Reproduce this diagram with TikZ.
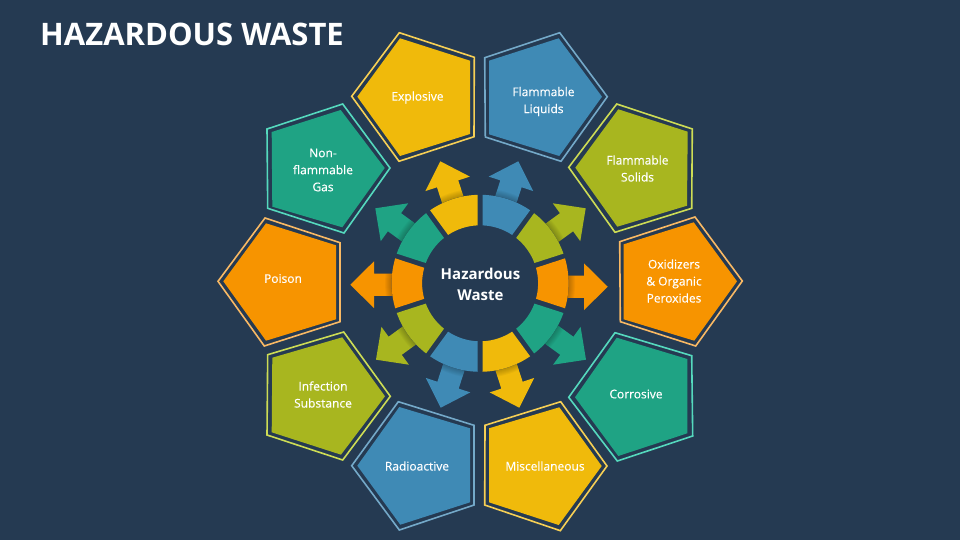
\documentclass[tikz,border=0pt]{standalone}
\usepackage{fontspec}
\setmainfont{Open Sans}
\newfontfamily\labelfont[FakeBold=0.35]{Open Sans}
\definecolor{bgc}{HTML}{253A52}
\definecolor{cy}{HTML}{F0BA0B}\definecolor{cyl}{HTML}{F6CF55}
\definecolor{cb}{HTML}{3F8AB5}\definecolor{cbl}{HTML}{74A9C9}
\definecolor{co}{HTML}{A8B61F}\definecolor{col}{HTML}{CDDC55}
\definecolor{cr}{HTML}{F79400}\definecolor{crl}{HTML}{F9B964}
\definecolor{ct}{HTML}{1FA384}\definecolor{ctl}{HTML}{55D9BE}
\usetikzlibrary{calc}
\tikzset{
  x=1pt,y=-1pt,
  frame/.style={draw=#1,line width=1.6pt,line join=miter,fill=none},
  face/.style={fill=#1,draw=none},
  lbl/.style={text=white,align=center,inner sep=0pt,font=\labelfont\fontsize{12}{17}\selectfont},
}
% #1 fill colour, #2 outline colour, #3 outer vertices, #4 inner vertices
\newcommand{\penta}[4]{\draw[frame=#2] #3 -- cycle; \fill[face=#1] #4 -- cycle;}
% #1 colour, #2 tip, #3 direction (y up)
\newcommand{\pointer}[3]{%
  \begin{scope}[shift={#2},rotate=#3]
    \fill[#1] (0,0) -- (-23.7,-23.4) -- (-23.7,-11.2) -- (-62,-11.2) -- (-62,11.2) -- (-23.7,11.2) -- (-23.7,23.4) -- cycle;
    \clip (0,0) -- (-23.7,-23.4) -- (-23.7,-11.2) -- (-62,-11.2) -- (-62,11.2) -- (-23.7,11.2) -- (-23.7,23.4) -- cycle;
    \foreach \r in {89,90,91,92,93,94,95}{\fill[black,opacity=0.035] (centre) circle[radius=\r];}
  \end{scope}}
% #1 colour, #2 first angle (y up)
\newcommand{\segment}[2]{%
  \pgfmathsetmacro{\aa}{#2}\pgfmathsetmacro{\ab}{#2-36}%
  \pgfmathsetmacro{\pa}{-(\aa-1.6)}\pgfmathsetmacro{\pb}{-(\ab+1.6)}%
  \pgfmathsetmacro{\qa}{-(\ab+2.5)}\pgfmathsetmacro{\qb}{-(\aa-2.5)}%
  \fill[#1] ($(centre)+(\pa:88.5)$) arc[start angle=\pa,end angle=\pb,radius=88.5]
    -- ($(centre)+(\qa:58)$) arc[start angle=\qa,end angle=\qb,radius=58] -- cycle;}
\begin{document}
\begin{tikzpicture}
\useasboundingbox (0,0) rectangle (960,540);
\fill[bgc] (0,0) rectangle (960,540);
\coordinate (centre) at (480.1,283.3);

\node[anchor=west,inner sep=0pt,text=white,font=\fontsize{31}{33}\selectfont\bfseries] (title) at (40,34.5) {HAZARDOUS WASTE};

% pentagons
\penta{cy}{cyl}{(399.3,32.7) -- (474.3,57.3) -- (474,136.7) -- (399,161.3) -- (351.7,96.3)}{(400,38.3) -- (470,60.7) -- (470,134) -- (400,156) -- (357.3,96.7)}
\penta{cb}{cbl}{(559.7,32.7) -- (607.3,96.7) -- (561,161.3) -- (485.3,137) -- (484.7,57.7)}{(558.7,38.3) -- (602,96.7) -- (559.3,156) -- (489,134.3) -- (489,60.7)}
\penta{co}{col}{(616.7,104) -- (692.3,129) -- (691.7,208.3) -- (615,232.3) -- (568.7,167.3)}{(618.3,109.3) -- (687.7,131.7) -- (687,205.7) -- (617.3,226.7) -- (575.3,167.7)}
\penta{cr}{crl}{(695,217) -- (742.3,281) -- (695.7,346) -- (620.3,321.7) -- (619.7,241.7)}{(693.7,222.3) -- (737,281.3) -- (694.3,340.7) -- (623.7,319.3) -- (623.7,244.3)}
\penta{ct}{ctl}{(615,332.7) -- (691.7,355.7) -- (692.7,436) -- (617.3,461) -- (568.7,397.3)}{(616.7,337.7) -- (687.3,359) -- (687.3,433.3) -- (618.3,456) -- (575,397.3)}
\penta{cy}{cyl}{(560.7,401.7) -- (607,466) -- (560.3,530.7) -- (484.7,505) -- (485,425.3)}{(559.3,407.3) -- (601.7,466) -- (558.7,525) -- (489,502.3) -- (489,428.3)}
\penta{cb}{cbl}{(398.3,401.7) -- (474,425.3) -- (474,505) -- (399.3,530) -- (351.7,465.7)}{(399.3,407) -- (470,428.3) -- (470,502.3) -- (400.3,524.7) -- (357.3,465.7)}
\penta{co}{col}{(343.7,332) -- (390.3,396.3) -- (342.7,460) -- (267,435) -- (267.7,354.7)}{(342.3,337.3) -- (385,396.3) -- (341,454.7) -- (271.7,432.3) -- (272.3,357.7)}
\penta{cr}{crl}{(265,218) -- (340,242.7) -- (340,321.7) -- (264.3,346) -- (218,281.3)}{(266,223.3) -- (336,245.3) -- (336,319.3) -- (266,340.7) -- (223.3,281.3)}
\penta{ct}{ctl}{(342.7,104) -- (390,168) -- (344,233) -- (267.7,208.3) -- (267,129)}{(340.7,110) -- (384.7,168) -- (342.3,227.3) -- (272.3,206.7) -- (271.7,132)}

% arrows
\pointer{cy}{(440.3,161.3)}{108}
\pointer{cb}{(518.3,161.3)}{72}
\pointer{co}{(585.7,208.3)}{36}
\pointer{cr}{(607.7,286.7)}{0}
\pointer{ct}{(586,359.7)}{-36}
\pointer{cy}{(519.3,407.7)}{-72}
\pointer{cb}{(440.7,407.7)}{-108}
\pointer{co}{(376,359.7)}{216}
\pointer{cr}{(350.3,284.7)}{180}
\pointer{ct}{(375.3,208.3)}{144}

\fill[bgc] (centre) circle[radius=88.5];

% ring
\segment{cb}{90}
\segment{co}{54}
\segment{cr}{18}
\segment{ct}{-18}
\segment{cy}{-54}
\segment{cb}{-90}
\segment{co}{-126}
\segment{cr}{-162}
\segment{ct}{-198}
\segment{cy}{-234}

% labels
\node[lbl] (explosive) at (417.5,97.5) {Explosive};
\node[lbl] (liquids) at (543.5,101.5) {Flammable\\Liquids};
\node[lbl] (solids) at (637.5,168.5) {Flammable\\Solids};
\node[lbl] (oxid) at (674,281) {Oxidizers\\\&\ Organic\\Peroxides};
\node[lbl] (corr) at (636,394) {Corrosive};
\node[lbl] (misc) at (545,466) {Miscellaneous};
\node[lbl] (radio) at (417,466) {Radioactive};
\node[lbl] (infect) at (323,394.5) {Infection\\Substance};
\node[lbl] (poison) at (283,278.5) {Poison};
\node[lbl] (nonfl) at (323,170) {Non-\\flammable\\Gas};
\node[text=white,align=center,inner sep=0pt,font=\fontsize{15}{21.5}\selectfont\bfseries] (centrelabel) at (480.5,284.5) {Hazardous\\Waste};
\end{tikzpicture}
\end{document}
